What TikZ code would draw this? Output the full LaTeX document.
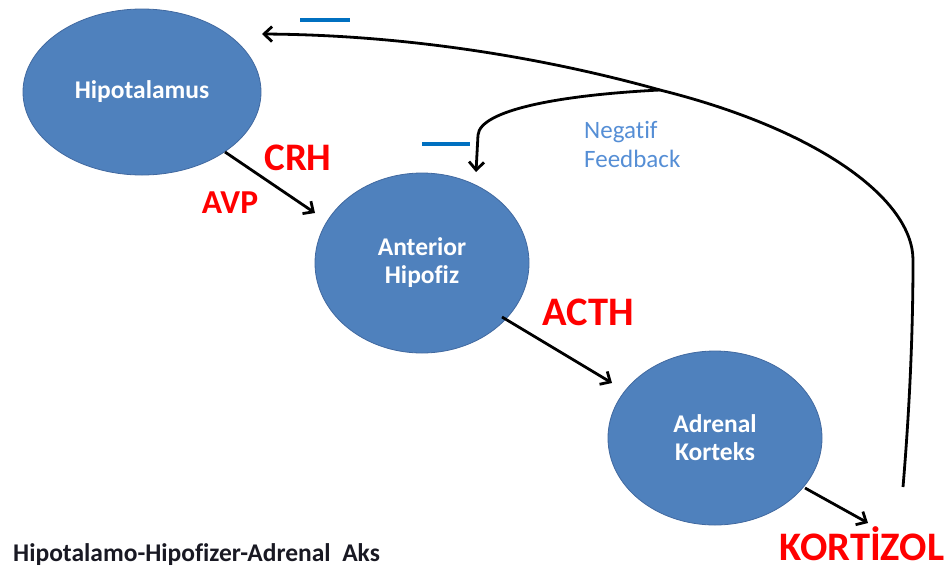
\documentclass[tikz,border=0pt]{standalone}
\usepackage{fontspec}
\setmainfont[Ligatures=NoCommon]{Carlito}
\usetikzlibrary{arrows.meta,shapes.geometric}
\definecolor{ellfill}{RGB}{79,129,189}
\definecolor{elldraw}{RGB}{65,105,160}
\definecolor{fbblue}{RGB}{85,142,213}
\definecolor{minusblue}{RGB}{0,112,192}
\definecolor{titlecol}{RGB}{25,25,35}
\tikzset{
  organ/.style={ellipse, fill=ellfill, draw=elldraw, line width=0.8pt, inner sep=0pt,
    text=white, align=center, font=\bfseries\fontsize{25.5}{28}\selectfont},
  hormone/.style={text=red, font=\bfseries\fontsize{40.5}{44}\selectfont, anchor=base, inner sep=0pt},
  arr/.style={line width=2.8pt, -{Straight Barb[length=8pt,width=15pt]}, black},
  minusbar/.style={line width=4pt, minusblue},
}
\begin{document}
\begin{tikzpicture}[x=1pt,y=-1pt]
\useasboundingbox (0,0) rectangle (947,571);
\node[organ, minimum width=238pt, minimum height=166pt] (hyp) at (142,92) {Hipotalamus};
\node[organ, minimum width=214pt, minimum height=180pt] (ant) at (422,263) {Anterior\\Hipofiz};
\node[organ, minimum width=214pt, minimum height=174pt] (adr) at (715,438) {Adrenal\\Korteks};

\node[hormone, font=\bfseries\fontsize{39}{42}\selectfont] (crh) at (298,170) {CRH};
\node[hormone, font=\bfseries\fontsize{33.5}{36}\selectfont] (avp) at (230,213) {AVP};
\node[hormone] (acth) at (588,325) {ACTH};
\node[hormone] (kort) at (862,560) {KORTİZOL};

\node[anchor=base west, inner sep=0pt, text=fbblue, align=left,
  font=\fontsize{25}{29}\selectfont] (fb) at (584,167) {Negatif\\Feedback};

\node[anchor=base west, inner sep=0pt, text=titlecol,
  font=\bfseries\fontsize{25.5}{28}\selectfont] (title) at (13,561) {Hipotalamo-Hipofizer-Adrenal\ \ Aks};

\draw[minusbar] (300,20) -- (350,20);
\draw[minusbar] (422,144) -- (470,144);

\coordinate (a1s) at (225,152);
\coordinate (a1e) at (315,213);
\coordinate (a2s) at (502,317);
\coordinate (a2e) at (612,383);
\coordinate (a3s) at (805,488);
\coordinate (a3e) at (868,523);
\draw[arr] (a1s) -- (a1e);
\draw[arr] (a2s) -- (a2e);
\draw[arr] (a3s) -- (a3e);

\coordinate (fbstart) at (903,487);
\coordinate (fbtop) at (913,260);
\coordinate (fbjoin) at (660,90);
\coordinate (fbhyp) at (262,34);
\coordinate (fbant) at (476,172);
\draw[arr] (fbstart) .. controls (912,380) and (913,300) .. (fbtop)
  .. controls (913,200) and (820,130) .. (fbjoin)
  .. controls (560,62) and (420,35) .. (fbhyp);
\draw[arr] (fbjoin) .. controls (560,95) and (480,110) .. (478,135) -- (fbant);
\end{tikzpicture}
\end{document}
